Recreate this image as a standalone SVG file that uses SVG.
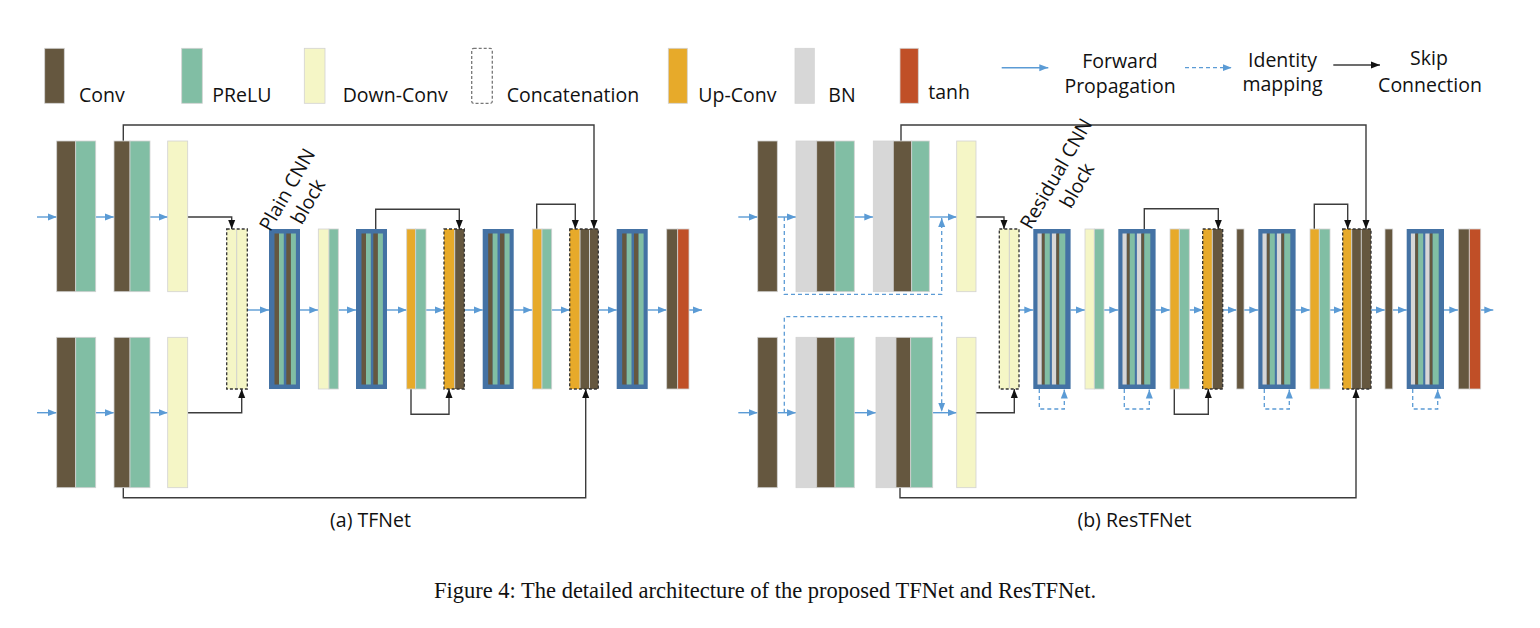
<svg xmlns="http://www.w3.org/2000/svg" xmlns:xlink="http://www.w3.org/1999/xlink" width="1540" height="628" viewBox="0 0 1540 628">
<style>
.conv{fill:#65573F}
.prelu{fill:#81BEA4}
.down{fill:#F5F6C6}
.up{fill:#E7AA2A}
.bn{fill:#D7D7D7}
.tanh{fill:#C04F27}
.bar{stroke:#D2D2D2;stroke-width:0.8}
.frame{fill:#4472A4}
.sep{stroke:#CFCFCF;stroke-width:1}
.concat{fill:none;stroke:#333;stroke-width:1.3;stroke-dasharray:3 2}
.fwd{fill:none;stroke:#5B9BD5;stroke-width:1.4;marker-end:url(#ab)}
.idm{fill:none;stroke:#5B9BD5;stroke-width:1.3;stroke-dasharray:4 3;marker-end:url(#ab)}
.skip{fill:none;stroke:#3C3C3C;stroke-width:1.4;marker-end:url(#ak)}
.lbl{font-family:"Open Sans","Noto Sans","Liberation Sans",sans-serif;font-size:19.5px;fill:#111}
.cap{font-family:"Liberation Serif","Times New Roman",serif;font-size:22.5px;fill:#111}
</style>
<defs>
<marker id="ab" markerWidth="9" markerHeight="8" refX="9" refY="4" orient="auto" markerUnits="userSpaceOnUse"><path d="M0,0.5 L9,4 L0,7.5z" fill="#5B9BD5"/></marker>
<marker id="ak" markerWidth="9" markerHeight="8" refX="9" refY="4" orient="auto" markerUnits="userSpaceOnUse"><path d="M0,0.5 L9,4 L0,7.5z" fill="#111"/></marker>
<g id="plainBlock">
<rect x="0" y="0" width="31" height="160" class="frame"/>
<rect x="5.5" y="4.5" width="4.5" height="151" class="conv"/>
<rect x="10" y="4.5" width="4.8" height="151" class="prelu"/>
<rect x="17.3" y="4.5" width="4.6" height="151" class="conv"/>
<rect x="21.9" y="4.5" width="5" height="151" class="prelu"/>
</g>
<g id="resBlock">
<rect x="0" y="0" width="37.3" height="160" class="frame"/>
<rect x="4.2" y="4.5" width="4.3" height="151" class="bn"/>
<rect x="8.5" y="4.5" width="3" height="151" class="conv"/>
<rect x="11.5" y="4.5" width="5" height="151" class="prelu"/>
<rect x="18.6" y="4.5" width="4.4" height="151" class="bn"/>
<rect x="23" y="4.5" width="3" height="151" class="conv"/>
<rect x="26" y="4.5" width="6" height="151" class="prelu"/>
</g>
</defs>
<rect width="1540" height="628" fill="#fff"/>

<!-- Legend -->
<g id="legend">
<g id="lg-conv"><rect x="44.7" y="48.3" width="19.6" height="55" class="conv bar"/><text x="79" y="101.5" class="lbl">Conv</text></g>
<g id="lg-prelu"><rect x="181.7" y="48.3" width="20.6" height="55" class="prelu bar"/><text x="212.3" y="101.5" class="lbl">PReLU</text></g>
<g id="lg-down"><rect x="304.3" y="48.3" width="20.7" height="55" class="down bar"/><text x="342.7" y="101.5" class="lbl">Down-Conv</text></g>
<g id="lg-concat"><rect x="471.7" y="48.3" width="20.6" height="55" rx="2" fill="none" stroke="#777" stroke-width="1.3" stroke-dasharray="3 2"/><text x="506.7" y="101.5" class="lbl">Concatenation</text></g>
<g id="lg-up"><rect x="668.3" y="48.3" width="19" height="55" class="up bar"/><text x="698.3" y="101.5" class="lbl">Up-Conv</text></g>
<g id="lg-bn"><rect x="795" y="48.3" width="19.3" height="55" class="bn bar"/><text x="828.3" y="101.5" class="lbl">BN</text></g>
<g id="lg-tanh"><rect x="900" y="48.3" width="18.3" height="55" class="tanh bar"/><text x="928.3" y="99" class="lbl">tanh</text></g>
<g id="lg-fwd"><line x1="1001.7" y1="67.7" x2="1048.3" y2="67.7" class="fwd"/><text x="1120" y="68" text-anchor="middle" class="lbl">Forward</text><text x="1120" y="93.3" text-anchor="middle" class="lbl">Propagation</text></g>
<g id="lg-id"><line x1="1185" y1="67.7" x2="1231.7" y2="67.7" class="idm"/><text x="1282.5" y="66.7" text-anchor="middle" class="lbl">Identity</text><text x="1282.5" y="91" text-anchor="middle" class="lbl">mapping</text></g>
<g id="lg-skip"><line x1="1333.3" y1="65" x2="1380" y2="65" class="skip"/><text x="1429" y="64.5" text-anchor="middle" class="lbl">Skip</text><text x="1430" y="91.5" text-anchor="middle" class="lbl">Connection</text></g>
</g>

<!-- Connectors -->
<g id="connectors">
<!-- TFNet forward -->
<path class="fwd" d="M37,217 H56.7"/><path class="fwd" d="M95.7,217 H114"/><path class="fwd" d="M150,217 H167.7"/>
<path class="fwd" d="M37,412.7 H56.7"/><path class="fwd" d="M95.7,412.7 H114"/><path class="fwd" d="M150,412.7 H167.7"/>
<path class="fwd" d="M247.3,310 H269"/><path class="fwd" d="M300,310 H318.3"/><path class="fwd" d="M338.3,310 H356"/>
<path class="fwd" d="M387,310 H406.7"/><path class="fwd" d="M426,310 H444"/><path class="fwd" d="M464.3,310 H482.7"/>
<path class="fwd" d="M513.7,310 H532.3"/><path class="fwd" d="M551.7,310 H569.7"/><path class="fwd" d="M598.3,310 H616.7"/>
<path class="fwd" d="M647.7,310 H666.7"/><path class="fwd" d="M689,310 H702"/>
<!-- TFNet skip -->
<path class="skip" d="M187.7,217 H231.7 V229"/>
<path class="skip" d="M187.7,412.7 H241.7 V389"/>
<path class="skip" d="M123.3,141 V125 H594 V229"/>
<path class="skip" d="M123.3,487.7 V497.7 H585.7 V389"/>
<path class="skip" d="M375.7,229 V209.3 H459.3 V229"/>
<path class="skip" d="M411,389 V414.3 H449 V389"/>
<path class="skip" d="M536.7,229 V204.3 H575.3 V229"/>
<!-- ResTFNet forward -->
<path class="fwd" d="M738.3,217 H757.7"/><path class="fwd" d="M777.3,217 H796"/><path class="fwd" d="M854.3,217 H873.3"/><path class="fwd" d="M929.3,217 H956.7"/>
<path class="fwd" d="M738.3,412.7 H757.7"/><path class="fwd" d="M777.3,412.7 H796"/><path class="fwd" d="M854.3,412.7 H876"/><path class="fwd" d="M932.7,412.7 H956.7"/>
<path class="fwd" d="M1019,310 H1033.3"/><path class="fwd" d="M1070.6,310 H1085"/><path class="fwd" d="M1104,310 H1118.3"/>
<path class="fwd" d="M1155.6,310 H1170"/><path class="fwd" d="M1189.3,310 H1202.7"/><path class="fwd" d="M1222.7,310 H1236.7"/>
<path class="fwd" d="M1244,310 H1258.3"/><path class="fwd" d="M1295.6,310 H1310"/><path class="fwd" d="M1330,310 H1342.7"/>
<path class="fwd" d="M1371,310 H1385"/><path class="fwd" d="M1392.7,310 H1406.7"/><path class="fwd" d="M1444,310 H1458.3"/>
<path class="fwd" d="M1480.7,310 H1493.3"/>
<!-- ResTFNet identity -->
<path class="idm" d="M784.3,217 V294.3 H941.7 V218"/>
<path class="idm" d="M784.3,412.7 V316.7 H941.7 V411.7"/>
<path class="idm" d="M1039.3,389 V409 H1064.3 V389.5"/>
<path class="idm" d="M1124.3,389 V409 H1149.3 V389.5"/>
<path class="idm" d="M1264.3,389 V409 H1289.3 V389.5"/>
<path class="idm" d="M1412.7,389 V409 H1437.7 V389.5"/>
<!-- ResTFNet skip -->
<path class="skip" d="M976,217 H1004 V229"/>
<path class="skip" d="M976,412.7 H1014.3 V389"/>
<path class="skip" d="M901,141 V125 H1366 V229"/>
<path class="skip" d="M900,487.7 V497.7 H1356 V389"/>
<path class="skip" d="M1144.3,229 V208.7 H1218.3 V229"/>
<path class="skip" d="M1174.3,389 V414.3 H1208.3 V389"/>
<path class="skip" d="M1314.3,229 V204.3 H1347.7 V229"/>
</g>

<!-- TFNet nodes -->
<g id="tf-in1-convprelu1"><rect x="56.7" y="141" width="19" height="150.7" class="conv bar"/><rect x="75.7" y="141" width="20" height="150.7" class="prelu bar"/></g>
<g id="tf-in1-convprelu2"><rect x="114" y="141" width="16" height="150.7" class="conv bar"/><rect x="130" y="141" width="20" height="150.7" class="prelu bar"/></g>
<g id="tf-in1-down"><rect x="167.7" y="141" width="20" height="150.7" class="down bar"/></g>
<g id="tf-in2-convprelu1"><rect x="56.7" y="337.3" width="19" height="150.4" class="conv bar"/><rect x="75.7" y="337.3" width="20" height="150.4" class="prelu bar"/></g>
<g id="tf-in2-convprelu2"><rect x="114" y="337.3" width="16" height="150.4" class="conv bar"/><rect x="130" y="337.3" width="20" height="150.4" class="prelu bar"/></g>
<g id="tf-in2-down"><rect x="167.7" y="337.3" width="20" height="150.4" class="down bar"/></g>
<g id="tf-concat1"><rect x="226.7" y="229" width="20.6" height="160" class="down"/><line x1="236.7" y1="230" x2="236.7" y2="388" class="sep"/><rect x="226.7" y="229" width="20.6" height="160" class="concat"/></g>
<g id="tf-block1"><use xlink:href="#plainBlock" x="269" y="229"/></g>
<g id="tf-downprelu"><rect x="318.3" y="229" width="10.7" height="160" class="down bar"/><rect x="329" y="229" width="9.3" height="160" class="prelu bar"/></g>
<g id="tf-block2"><use xlink:href="#plainBlock" x="356" y="229"/></g>
<g id="tf-upprelu1"><rect x="406.7" y="229" width="9" height="160" class="up bar"/><rect x="415.7" y="229" width="10.3" height="160" class="prelu bar"/></g>
<g id="tf-concat2"><rect x="444" y="229" width="10.7" height="160" class="up"/><rect x="454.7" y="229" width="9.6" height="160" class="conv"/><line x1="454.7" y1="230" x2="454.7" y2="388" class="sep"/><rect x="444" y="229" width="20.3" height="160" class="concat"/></g>
<g id="tf-block3"><use xlink:href="#plainBlock" x="482.7" y="229"/></g>
<g id="tf-upprelu2"><rect x="532.3" y="229" width="9.7" height="160" class="up bar"/><rect x="542" y="229" width="9.7" height="160" class="prelu bar"/></g>
<g id="tf-concat3"><rect x="569.7" y="229" width="10.3" height="160" class="up"/><rect x="580" y="229" width="18.3" height="160" class="conv"/><line x1="580" y1="230" x2="580" y2="388" class="sep"/><line x1="589.5" y1="230" x2="589.5" y2="388" class="sep"/><rect x="569.7" y="229" width="28.6" height="160" class="concat"/></g>
<g id="tf-block4"><use xlink:href="#plainBlock" x="616.7" y="229"/></g>
<g id="tf-out"><rect x="666.7" y="229" width="11" height="160" class="conv bar"/><rect x="677.7" y="229" width="11.3" height="160" class="tanh bar"/></g>
<g id="tf-block-label" transform="translate(293,193) rotate(-60)"><text x="0" y="0" text-anchor="middle" class="lbl">Plain CNN</text><text x="0" y="24" text-anchor="middle" class="lbl">block</text></g>
<g id="tf-title"><text x="370.5" y="527" text-anchor="middle" class="lbl">(a) TFNet</text></g>

<!-- ResTFNet nodes -->
<g id="rs-in1-conv"><rect x="757.7" y="141" width="19.6" height="150.7" class="conv bar"/></g>
<g id="rs-in1-bnconvprelu1"><rect x="796" y="141" width="20.7" height="150.7" class="bn bar"/><rect x="816.7" y="141" width="18.3" height="150.7" class="conv bar"/><rect x="835" y="141" width="19.3" height="150.7" class="prelu bar"/></g>
<g id="rs-in1-bnconvprelu2"><rect x="873.3" y="141" width="20" height="150.7" class="bn bar"/><rect x="893.3" y="141" width="18.4" height="150.7" class="conv bar"/><rect x="911.7" y="141" width="17.6" height="150.7" class="prelu bar"/></g>
<g id="rs-in1-down"><rect x="956.7" y="141" width="19.3" height="150.7" class="down bar"/></g>
<g id="rs-in2-conv"><rect x="757.7" y="337.3" width="19.6" height="150.4" class="conv bar"/></g>
<g id="rs-in2-bnconvprelu1"><rect x="796" y="337.3" width="20.7" height="150.4" class="bn bar"/><rect x="816.7" y="337.3" width="18.3" height="150.4" class="conv bar"/><rect x="835" y="337.3" width="19.3" height="150.4" class="prelu bar"/></g>
<g id="rs-in2-bnconvprelu2"><rect x="876" y="337.3" width="20" height="150.4" class="bn bar"/><rect x="896" y="337.3" width="14.7" height="150.4" class="conv bar"/><rect x="910.7" y="337.3" width="22" height="150.4" class="prelu bar"/></g>
<g id="rs-in2-down"><rect x="956.7" y="337.3" width="19.3" height="150.4" class="down bar"/></g>
<g id="rs-concat1"><rect x="999.3" y="229" width="19.7" height="160" class="down"/><line x1="1009.3" y1="230" x2="1009.3" y2="388" class="sep"/><rect x="999.3" y="229" width="19.7" height="160" class="concat"/></g>
<g id="rs-block1"><use xlink:href="#resBlock" x="1033.3" y="229"/></g>
<g id="rs-downprelu"><rect x="1085" y="229" width="9.3" height="160" class="down bar"/><rect x="1094.3" y="229" width="9.7" height="160" class="prelu bar"/></g>
<g id="rs-block2"><use xlink:href="#resBlock" x="1118.3" y="229"/></g>
<g id="rs-upprelu1"><rect x="1170" y="229" width="9.3" height="160" class="up bar"/><rect x="1179.3" y="229" width="10" height="160" class="prelu bar"/></g>
<g id="rs-concat2"><rect x="1202.7" y="229" width="9.6" height="160" class="up"/><rect x="1212.3" y="229" width="10.4" height="160" class="conv"/><line x1="1212.3" y1="230" x2="1212.3" y2="388" class="sep"/><rect x="1202.7" y="229" width="20" height="160" class="concat"/></g>
<g id="rs-conv1"><rect x="1236.7" y="229" width="7.3" height="160" class="conv bar"/></g>
<g id="rs-block3"><use xlink:href="#resBlock" x="1258.3" y="229"/></g>
<g id="rs-upprelu2"><rect x="1310" y="229" width="9.3" height="160" class="up bar"/><rect x="1319.3" y="229" width="10.7" height="160" class="prelu bar"/></g>
<g id="rs-concat3"><rect x="1342.7" y="229" width="9" height="160" class="up"/><rect x="1351.7" y="229" width="19.3" height="160" class="conv"/><line x1="1351.7" y1="230" x2="1351.7" y2="388" class="sep"/><line x1="1361.3" y1="230" x2="1361.3" y2="388" class="sep"/><rect x="1342.7" y="229" width="28.3" height="160" class="concat"/></g>
<g id="rs-conv2"><rect x="1385" y="229" width="7.7" height="160" class="conv bar"/></g>
<g id="rs-block4"><use xlink:href="#resBlock" x="1406.7" y="229"/></g>
<g id="rs-out"><rect x="1458.3" y="229" width="11" height="160" class="conv bar"/><rect x="1469.3" y="229" width="11.4" height="160" class="tanh bar"/></g>
<g id="rs-block-label" transform="translate(1062,177) rotate(-60)"><text x="0" y="0" text-anchor="middle" class="lbl">Residual CNN</text><text x="0" y="24" text-anchor="middle" class="lbl">block</text></g>
<g id="rs-title"><text x="1134.5" y="527" text-anchor="middle" class="lbl">(b) ResTFNet</text></g>

<text x="765" y="598" text-anchor="middle" class="cap">Figure 4: The detailed architecture of the proposed TFNet and ResTFNet.</text>
</svg>
